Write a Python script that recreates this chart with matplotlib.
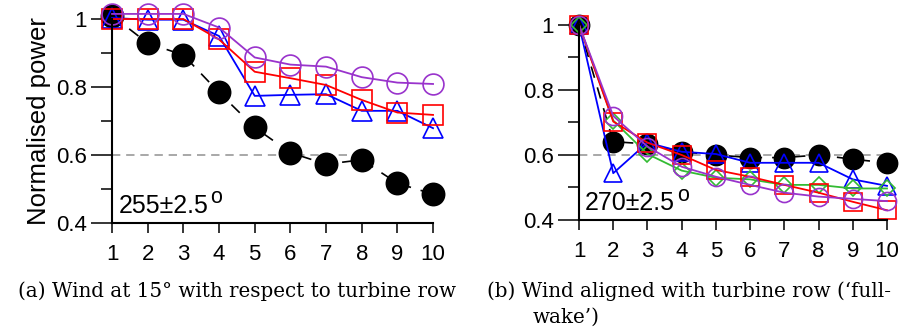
import matplotlib
matplotlib.use('Agg')
import matplotlib.pyplot as plt

turbines = list(range(1, 11))

# Panel (a): wind sector 255 +/- 2.5 deg
a_black = [1.010, 0.929, 0.894, 0.784, 0.681, 0.607, 0.573, 0.586, 0.517, 0.485]
a_blue = [1.003, 0.998, 0.998, 0.950, 0.774, 0.777, 0.779, 0.730, 0.730, 0.679]
a_red = [1.000, 1.000, 1.000, 0.940, 0.845, 0.826, 0.806, 0.762, 0.725, 0.718]
a_purple = [1.015, 1.015, 1.015, 0.975, 0.887, 0.866, 0.860, 0.829, 0.813, 0.809]

# Panel (b): wind sector 270 +/- 2.5 deg
b_black = [1.000, 0.641, 0.634, 0.610, 0.600, 0.592, 0.592, 0.600, 0.587, 0.576]
b_blue = [1.000, 0.544, 0.638, 0.610, 0.603, 0.576, 0.576, 0.576, 0.525, 0.505]
b_green = [1.000, 0.706, 0.603, 0.552, 0.530, 0.525, 0.508, 0.508, 0.497, 0.497]
b_red = [1.000, 0.703, 0.638, 0.600, 0.554, 0.533, 0.508, 0.484, 0.456, 0.430]
b_purple = [1.000, 0.720, 0.626, 0.564, 0.533, 0.508, 0.484, 0.472, 0.465, 0.458]

ref_level = 0.6
a_ref_x = [1, 8]
b_ref_x = [1, 10]

PURPLE = '#9933CC'
GREEN = '#33BB33'
SANS = 'Liberation Sans'
SERIF = 'DejaVu Serif'

fig = plt.figure(figsize=(9.05, 3.28), dpi=100)
ax1 = fig.add_axes([0.1238, 0.320, 0.3547, 0.622])
ax2 = fig.add_axes([0.6398, 0.3293, 0.3403, 0.5945])


def style_axis(ax):
    ax.set_xlim(1, 10)
    ax.set_ylim(0.4, 1.0)
    for s in ['top', 'right']:
        ax.spines[s].set_visible(False)
    for s in ['left', 'bottom']:
        ax.spines[s].set_linewidth(1.5)
    ax.set_xticks(turbines)
    ax.set_yticks([0.4, 0.6, 0.8, 1.0])
    ax.set_yticklabels(['0.4', '0.6', '0.8', '1'])
    ax.set_yticks([0.5, 0.7, 0.9], minor=True)
    ax.tick_params(axis='y', which='major', length=15, width=1.1, pad=3, labelsize=16)
    ax.tick_params(axis='y', which='minor', length=8, width=1.1)
    ax.tick_params(axis='x', length=7, width=1.1, pad=8, labelsize=16)
    for lab in ax.get_xticklabels() + ax.get_yticklabels():
        lab.set_fontfamily(SANS)


def curve(ax, y, color, marker, ms, filled=False, ls='-', lw=1.3):
    ax.plot(turbines, y, color=color, ls=ls, lw=lw, marker=marker, ms=ms,
            mfc=color if filled else 'none', mec=color, mew=1.2, clip_on=False)


# (a)
ax1.plot(a_ref_x, [ref_level] * 2, color='#999999', ls=(0, (5, 3.5)), lw=1.2)
curve(ax1, a_black, 'black', 'o', 16, filled=True, ls=(0, (7, 6)), lw=1.2)
curve(ax1, a_blue, 'blue', '^', 14)
curve(ax1, a_red, 'red', 's', 14)
curve(ax1, a_purple, PURPLE, 'o', 15)
style_axis(ax1)
ax1.set_ylabel('Normalised power', fontsize=18.5, fontfamily=SANS, labelpad=4)

# (b)
ax2.plot(b_ref_x, [ref_level] * 2, color='#999999', ls=(0, (5, 3.5)), lw=1.2)
curve(ax2, b_black, 'black', 'o', 14.5, filled=True, ls=(0, (7, 6)), lw=1.2)
curve(ax2, b_blue, 'blue', '^', 13)
curve(ax2, b_green, GREEN, 'D', 8)
curve(ax2, b_red, 'red', 's', 13)
curve(ax2, b_purple, PURPLE, 'o', 13)
style_axis(ax2)

# sector labels with raised 'o' for degrees
for ax, txt in [(ax1, '255\u00b12.5'), (ax2, '270\u00b12.5')]:
    t = ax.text(0.02, 0.05, txt, transform=ax.transAxes, fontsize=18,
                fontfamily=SANS, ha='left', va='baseline')
    ax.annotate('o', xy=(1, 0), xycoords=t, xytext=(1.5, 10.5),
                textcoords='offset points', fontsize=15.5, fontfamily=SANS,
                ha='left', va='baseline')

# sub-captions
fig.text(18 / 905, 1 - 291 / 328, '(a) Wind at 15\u00b0 with respect to turbine row',
         fontsize=14.3, fontfamily=SERIF, ha='left', va='center')
fig.text(487 / 905, 1 - 291 / 328, '(b) Wind aligned with turbine row (\u2018full-',
         fontsize=14.3, fontfamily=SERIF, ha='left', va='center')
fig.text(533 / 905, 1 - 317 / 328, 'wake\u2019)',
         fontsize=14.3, fontfamily=SERIF, ha='left', va='center')

fig.savefig('out.png', dpi=100)
